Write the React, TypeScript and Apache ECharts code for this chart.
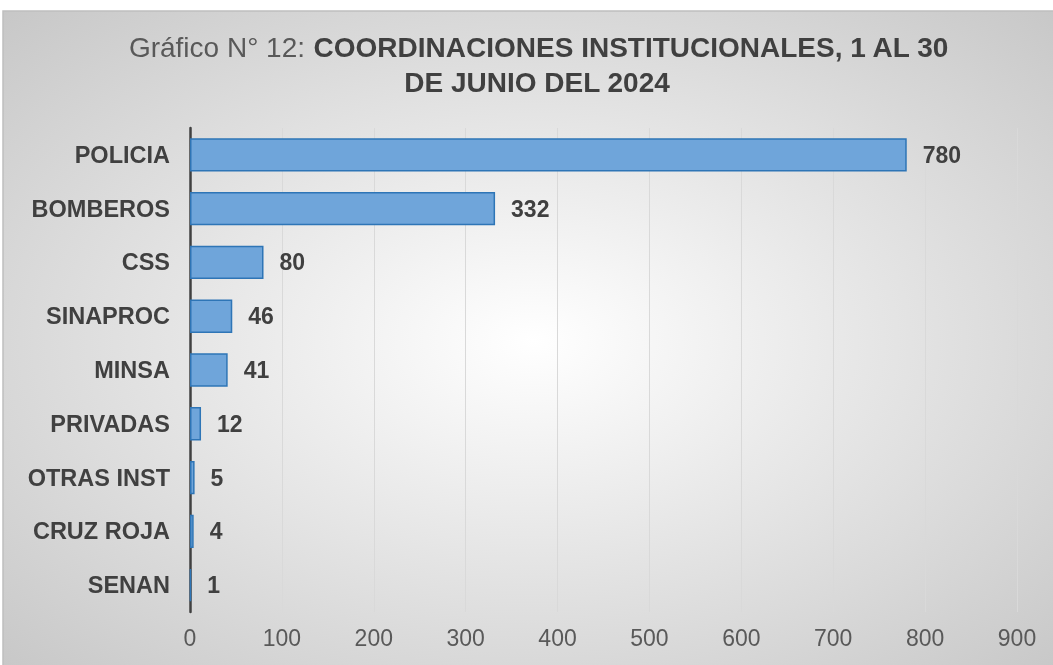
import React, { useEffect, useRef } from "react";
import * as echarts from "echarts";

const categories = ["POLICIA", "BOMBEROS", "CSS", "SINAPROC", "MINSA", "PRIVADAS", "OTRAS INST", "CRUZ ROJA", "SENAN"];
const values = [780, 332, 80, 46, 41, 12, 5, 4, 1];
const titleNormal = "Gráfico N° 12: ";
const titleBold1 = "COORDINACIONES INSTITUCIONALES, 1 AL 30";
const titleBold2 = "DE JUNIO DEL 2024";

export default function App() {
  const ref = useRef<HTMLDivElement>(null);
  useEffect(() => {
    const chart = echarts.init(ref.current!, undefined, { renderer: "svg" });
    const font = "'Liberation Sans', Arial, sans-serif";
    chart.setOption({
      animation: false,
      graphic: [
        {
          type: "rect",
          z: -10,
          silent: true,
          shape: { x: 3, y: 11, width: 1060, height: 660 },
          style: {
            fill: {
              type: "radial",
              x: 0.5,
              y: 0.5,
              r: 0.75,
              colorStops: [
                { offset: 0, color: "#ffffff" },
                { offset: 1, color: "#c4c4c4" },
              ],
            },
            stroke: "#bfbfbf",
            lineWidth: 1.5,
          },
        },
        {
          type: "text",
          silent: true,
          x: 539,
          y: 47,
          style: {
            text: `{n|${titleNormal}}{b|${titleBold1}}`,
            align: "center",
            verticalAlign: "middle",
            rich: {
              n: { fontFamily: font, fontSize: 28, fill: "#595959", color: "#595959" },
              b: { fontFamily: font, fontSize: 28, fontWeight: "bold", fill: "#404040", color: "#404040" },
            },
          },
        },
        {
          type: "text",
          silent: true,
          x: 537,
          y: 82,
          style: {
            text: titleBold2,
            align: "center",
            verticalAlign: "middle",
            fontFamily: font,
            fontSize: 28,
            fontWeight: "bold",
            fill: "#404040",
          },
        },
      ],
      grid: { left: 190, right: 36, top: 128, bottom: 53 },
      xAxis: {
        type: "value",
        min: 0,
        max: 900,
        interval: 100,
        axisLine: { show: false },
        axisTick: { show: false },
        splitLine: { lineStyle: { color: "#d9d9d9", width: 1 } },
        axisLabel: { fontFamily: font, fontSize: 23, color: "#595959", margin: 14 },
      },
      yAxis: {
        type: "category",
        data: categories,
        inverse: true,
        axisLine: { lineStyle: { color: "#404040", width: 2.5 } },
        axisTick: { show: false },
        axisLabel: { fontFamily: font, fontSize: 23.5, fontWeight: "bold", color: "#404040", margin: 20 },
      },
      series: [
        {
          type: "bar",
          data: values,
          barCategoryGap: "38%",
          itemStyle: { color: "#6fa5da", borderColor: "#2e75b6", borderWidth: 1.5 },
          label: {
            show: true,
            position: "right",
            distance: 16,
            fontFamily: font,
            fontSize: 23,
            fontWeight: "bold",
            color: "#404040",
          },
        },
      ],
    });
    return () => chart.dispose();
  }, []);
  return <div ref={ref} style={{ position: "fixed", left: 0, top: 0, width: 1053, height: 665 }} />;
}
